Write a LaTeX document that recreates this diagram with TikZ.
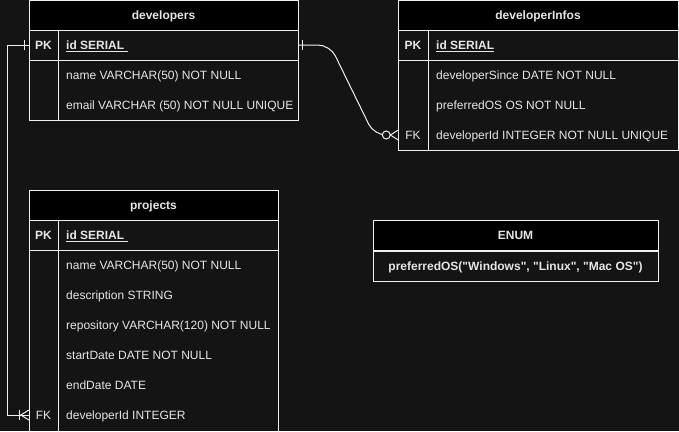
\documentclass[tikz,border=0pt]{standalone}
\usepackage{fontspec}
\setmainfont{Liberation Sans}[Ligatures=TeXOff]
\usetikzlibrary{positioning,calc}
\definecolor{bgdark}{HTML}{141414}
\definecolor{edgegray}{HTML}{F0F0F0}
\definecolor{txtgray}{HTML}{E6E6E6}
\newcommand\tblfont{\fontsize{12}{14}\selectfont}

\begin{document}
\begin{tikzpicture}[x=1pt, y=-1pt,
  tblhead/.style={draw=edgegray, line width=1pt, fill=black, text=txtgray,
    font=\bfseries\tblfont, minimum height=30pt, inner sep=0pt,
    text height=1.8ex, text depth=.2ex},
  keycell/.style={text=txtgray, font=\tblfont, minimum width=29pt,
    text height=1.8ex, text depth=.2ex, inner sep=0pt},
  field/.style={anchor=west, text=txtgray, font=\tblfont,
    text height=1.8ex, text depth=.2ex, inner sep=0pt},
  tblline/.style={draw=edgegray, line width=1pt},
  rel/.style={draw=edgegray, line width=1pt}]
  \fill[bgdark] (0,0) rectangle (679,431);
  \useasboundingbox (0,0) rectangle (679,431);

  % developers
  \node[tblhead, minimum width=269pt] (devHead) at (163.5,15.5) {developers};
  \draw[tblline] (29,30) rectangle (298,120);
  \draw[tblline] (29,60) -- (298,60);
  \draw[tblline] (58,30) -- (58,120);
  \node[keycell, font=\bfseries\tblfont] (devPK) at (43.5,45) {PK};
  \node[field, font=\bfseries\tblfont] (devId) at (66,45) {\underline{id SERIAL\ }};
  \foreach \txt [count=\i] in {name VARCHAR(50) NOT NULL, email VARCHAR (50) NOT NULL UNIQUE}
    \node[field] (dev\i) at (66,45+30*\i) {\txt};

  % developerInfos
  \node[tblhead, minimum width=280pt] (infHead) at (538,15.5) {developerInfos};
  \draw[tblline] (398,30) rectangle (678,150);
  \draw[tblline] (398,60) -- (678,60);
  \draw[tblline] (428,30) -- (428,150);
  \node[keycell, font=\bfseries\tblfont] (infPK) at (413,45) {PK};
  \node[field, font=\bfseries\tblfont] (infId) at (436,45) {\underline{id SERIAL}};
  \node[field] (inf1) at (436,75) {developerSince DATE NOT NULL};
  \node[field] (inf2) at (436,105) {preferredOS OS NOT NULL};
  \node[keycell] (infFK) at (413,135) {FK};
  \node[field] (inf3) at (436,135) {developerId INTEGER NOT NULL UNIQUE};

  % projects
  \node[tblhead, minimum width=249pt] (prjHead) at (153.5,205) {projects};
  \draw[tblline] (29,432) -- (29,220) -- (278,220) -- (278,432);
  \draw[tblline] (29,250) -- (278,250);
  \draw[tblline] (58,220) -- (58,432);
  \node[keycell, font=\bfseries\tblfont] (prjPK) at (43.5,235) {PK};
  \node[field, font=\bfseries\tblfont] (prjId) at (66,235) {\underline{id SERIAL\ }};
  \foreach \txt [count=\i] in {name VARCHAR(50) NOT NULL, description STRING,
      repository VARCHAR(120) NOT NULL, startDate DATE NOT NULL, endDate DATE}
    \node[field] (prj\i) at (66,235+30*\i) {\txt};
  \node[keycell] (prjFK) at (43.5,415) {FK};
  \node[field] (prj6) at (66,415) {developerId INTEGER};

  % enum
  \node[tblhead, minimum width=285pt] (enumHead) at (515.5,235) {ENUM};
  \node[draw=edgegray, line width=1pt, minimum width=285pt, minimum height=30pt,
    below=0pt of enumHead, text=txtgray, font=\bfseries\tblfont,
    text height=1.8ex, text depth=.2ex] (enumVals)
    {preferredOS("Windows", "Linux", "Mac OS")};

  % developers -> projects (one to many)
  \draw[rel] (devPK.west) -- ++(-21,0) |- (prjFK.west);
  \draw[rel] ([xshift=-4pt,yshift=5pt]devPK.west) -- ++(0,10);
  \draw[rel] ([xshift=-9pt,yshift=5pt]prjFK.west) -- ++(0,10);
  \draw[rel] ([yshift=5pt]prjFK.west) -- ([xshift=-8pt]prjFK.west) -- ([yshift=-5pt]prjFK.west);

  % developers -> developerInfos (one to zero-or-many)
  \coordinate (bendA) at (330,45);
  \coordinate (bendB) at (374,135);
  \draw[rel, rounded corners=12pt] (devPK -| devHead.east) -- (bendA) -- (bendB)
    -- ([xshift=-16pt]infFK.west);
  \draw[rel] ([xshift=4pt,yshift=5pt]devPK -| devHead.east) -- ++(0,10);
  \draw[rel, fill=bgdark] ([xshift=-12pt]infFK.west) circle (4pt);
  \draw[rel] ([yshift=5pt]infFK.west) -- ([xshift=-8pt]infFK.west) -- ([yshift=-5pt]infFK.west);
\end{tikzpicture}
\end{document}
